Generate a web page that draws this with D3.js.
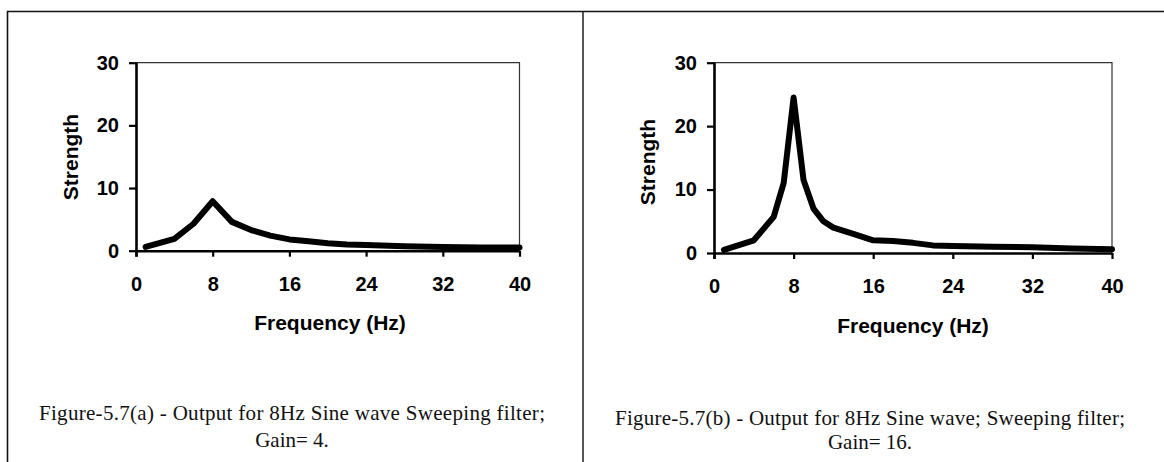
<!DOCTYPE html>
<html><head><meta charset="utf-8">
<script src="https://cdn.jsdelivr.net/npm/d3@7"></script>
<style>html,body{margin:0;padding:0;background:#fff;}svg{display:block;}</style>
</head><body>
<script>
// ---- data ----
const freqA = [1, 4, 6, 8, 10, 12, 14, 16, 18, 20, 22, 24, 28, 32, 36, 40];
const strengthA = [0.6, 1.9, 4.3, 7.9, 4.6, 3.3, 2.4, 1.8, 1.5, 1.2, 1.0, 0.9, 0.7, 0.6, 0.5, 0.5];
const freqB = [1, 4, 6, 7, 8, 9, 10, 11, 12, 14, 16, 18, 20, 22, 24, 28, 32, 36, 40];
const strengthB = [0.5, 2.0, 5.7, 11, 24.5, 11.5, 7, 5, 4, 3, 2.0, 1.9, 1.6, 1.2, 1.1, 1.0, 0.9, 0.7, 0.6];
const xTicks = [0, 8, 16, 24, 32, 40];
const yTicks = [0, 10, 20, 30];
const xTitle = "Frequency (Hz)";
const yTitle = "Strength";
const captionA = ["Figure-5.7(a) - Output for 8Hz Sine wave Sweeping filter;", "Gain= 4."];
const captionB = ["Figure-5.7(b) - Output for 8Hz Sine wave; Sweeping filter;", "Gain= 16."];

const W = 1164, H = 462;
const svg = d3.select("body").append("svg").attr("width", W).attr("height", H);

// outer frame
svg.append("path")
  .attr("d", `M7.5,${H} V11.5 H${W}`)
  .attr("fill", "none").attr("stroke", "#111").attr("stroke-width", 1.6);
svg.append("line").attr("x1", 583).attr("x2", 583).attr("y1", 11.5).attr("y2", H)
  .attr("stroke", "#111").attr("stroke-width", 1.4);

function panel(p) {
  const x = d3.scaleLinear().domain([0, 40]).range([p.x0, p.x1]);
  const y = d3.scaleLinear().domain([0, 30]).range([p.y0, p.y1]);
  const g = svg.append("g");
  // thin top and right borders
  g.append("path").attr("d", `M${p.x0},${p.y1} H${p.x1} V${p.y0}`)
    .attr("fill", "none").attr("stroke", "#333").attr("stroke-width", 1.2);
  // axes
  const ax = g.append("g").attr("transform", `translate(0,${p.y0})`)
    .call(d3.axisBottom(x).tickValues(xTicks).tickSize(6).tickPadding(20));
  const ay = g.append("g").attr("transform", `translate(${p.x0},0)`)
    .call(d3.axisLeft(y).tickValues(yTicks).tickSize(7).tickPadding(10));
  [ax, ay].forEach(a => {
    a.select(".domain").attr("stroke", "#000").attr("stroke-width", 2.6);
    a.selectAll(".tick line").attr("stroke", "#000").attr("stroke-width", 2.2);
    a.selectAll("text").attr("fill", "#000")
      .style("font-family", "'Liberation Sans', Arial, sans-serif")
      .style("font-weight", "bold").style("font-size", "20px");
  });
  ax.select(".domain").attr("d", `M${p.x0},0.5H${p.x1}`);
  ay.select(".domain").attr("d", `M0.5,${p.y0 + 6}V${p.y1}`);
  // data line
  const data = p.fx.map((f, i) => [f, p.vs[i]]);
  g.append("path").datum(data)
    .attr("d", d3.line().x(d => x(d[0])).y(d => y(d[1])))
    .attr("fill", "none").attr("stroke", "#000").attr("stroke-width", 6)
    .attr("stroke-linejoin", "round").attr("stroke-linecap", "round");
  // titles
  g.append("text").attr("x", p.xtx).attr("y", p.xty).attr("text-anchor", "middle")
    .attr("dominant-baseline", "central")
    .style("font-family", "'Liberation Sans', Arial, sans-serif")
    .style("font-weight", "bold").style("font-size", "21px").text(xTitle);
  g.append("text").attr("transform", `translate(${p.ytx},${p.yty}) rotate(-90)`)
    .attr("text-anchor", "middle").attr("dominant-baseline", "central")
    .style("font-family", "'Liberation Sans', Arial, sans-serif")
    .style("font-weight", "bold").style("font-size", "21px").text(yTitle);
  // caption
  p.cap.forEach((t, i) => {
    const tx = g.append("text").attr("x", p.cx).attr("y", p.cy[i]).attr("text-anchor", "middle")
      .attr("dominant-baseline", "central")
      .style("font-family", "'Liberation Serif', 'Times New Roman', serif")
      .style("font-size", "21px").attr("fill", "#111").text(t);
    if (i === 0) tx.attr("textLength", p.cw).attr("lengthAdjust", "spacing");
  });
}

panel({x0: 136, x1: 519.5, y0: 250.7, y1: 62.7, fx: freqA, vs: strengthA,
  xtx: 330, xty: 322, ytx: 70, yty: 157, cap: captionA, cx: 292, cw: 506, cy: [413, 440]});
panel({x0: 714, x1: 1112, y0: 253, y1: 62.7, fx: freqB, vs: strengthB,
  xtx: 913, xty: 325, ytx: 647, yty: 162, cap: captionB, cx: 870, cw: 510, cy: [418, 442]});
</script>
</body></html>
